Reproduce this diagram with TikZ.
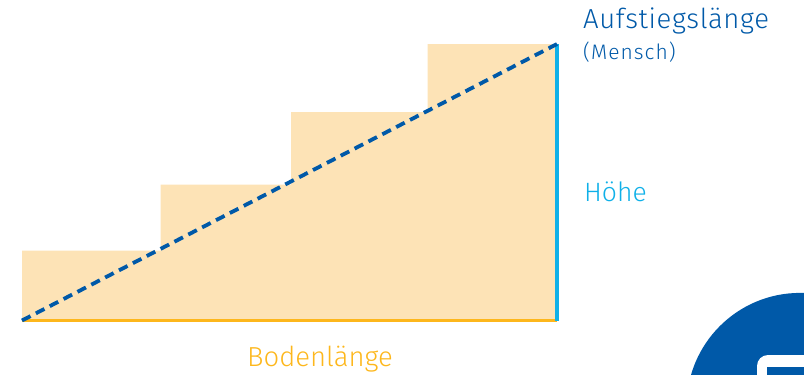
\documentclass[tikz,border=0pt]{standalone}
\usepackage{fontspec}
\setmainfont{Fira Sans Light}
\newfontfamily\trackA[LetterSpace=2.3]{Fira Sans Light}
\newfontfamily\trackB[LetterSpace=5.0]{Fira Sans Light}
\definecolor{stairfill}{HTML}{FDE3B6}
\definecolor{darkblue}{HTML}{0059A8}
\definecolor{skyblue}{HTML}{0FB0E8}
\definecolor{amber}{HTML}{FDB71C}
\tikzset{
  lbl/.style={inner sep=0pt,anchor=base west,font=\fontsize{27.5}{27.5}\selectfont},
  midlbl/.style={inner sep=0pt,anchor=base west,font=\fontsize{26.5}{26.5}\selectfont},
  smalllbl/.style={inner sep=0pt,anchor=base west,font=\fontsize{21}{21}\selectfont},
}
\begin{document}
\begin{tikzpicture}[x=1pt,y=-1pt]
\useasboundingbox (0,0) rectangle (804,375);
\coordinate (bl) at (22,320.5);
\coordinate (br) at (557,320.5);
\coordinate (tr) at (557,44);
\fill[stairfill] (22,320.5) -- (22,250.5) -- (160.5,250.5) -- (160.5,184.5) -- (291,184.5) -- (291,112) -- (427.5,112) -- (427.5,44) -- (557,44) -- (557,320.5) -- cycle;
\draw[amber,line width=3.4pt] (bl) -- (br);
\draw[skyblue,line width=3.4pt] (br) -- (tr);
\draw[darkblue,line width=3.8pt,dash pattern=on 9.6pt off 6pt] (bl) -- (tr);
\node[lbl,text=darkblue] (a) at (583,28) {\trackA Aufstiegslänge};
\node[smalllbl,text=darkblue] (m) at (583,59) {\trackB (Mensch)};
\node[midlbl,text=skyblue] (h) at (584,201) {Höhe};
\node[lbl,text=amber] (b) at (247,366) {Bodenlänge};
\begin{scope}
\clip (0,0) rectangle (804,375);
\fill[darkblue] (800,406.3) circle (113.4);
\fill[white,rounded corners=11pt] (757,355) rectangle (830,420);
\fill[darkblue] (767,367) rectangle (830,420);
\end{scope}
\end{tikzpicture}
\end{document}
